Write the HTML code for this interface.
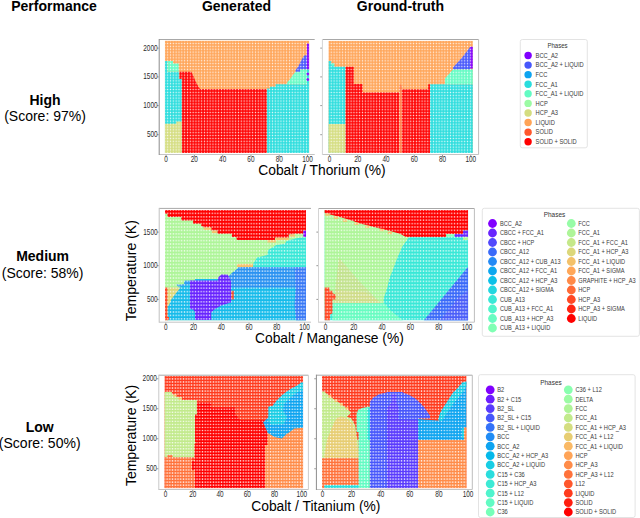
<!DOCTYPE html><html><head><meta charset="utf-8"><style>html,body{margin:0;padding:0;background:#fff;overflow:hidden}svg{display:block}</style></head><body><svg width="640" height="518" viewBox="0 0 640 518" font-family='"Liberation Sans", sans-serif'>
<rect width="640" height="518" fill="#fff"/>
<text x="54" y="10.6" font-size="14" font-weight="bold" text-anchor="middle" fill="#000" >Performance</text>
<text x="236.5" y="10.6" font-size="14" font-weight="bold" text-anchor="middle" fill="#000" >Generated</text>
<text x="400.4" y="10.6" font-size="14" font-weight="bold" text-anchor="middle" fill="#000" >Ground-truth</text>
<text x="45" y="104.5" font-size="14" font-weight="bold" text-anchor="middle" fill="#000" >High</text>
<text x="45" y="120.5" font-size="14" font-weight="normal" text-anchor="middle" fill="#000" >(Score: 97%)</text>
<text x="42.6" y="260.8" font-size="14" font-weight="bold" text-anchor="middle" fill="#000" >Medium</text>
<text x="42.6" y="277.5" font-size="14" font-weight="normal" text-anchor="middle" fill="#000" >(Score: 58%)</text>
<text x="39.7" y="431.9" font-size="14" font-weight="bold" text-anchor="middle" fill="#000" >Low</text>
<text x="39.7" y="448.3" font-size="14" font-weight="normal" text-anchor="middle" fill="#000" >(Score: 50%)</text>
<text x="258.2" y="175.3" font-size="14" font-weight="normal" text-anchor="start" fill="#000" textLength="127.5" lengthAdjust="spacingAndGlyphs">Cobalt / Thorium (%)</text>
<text x="255" y="342.5" font-size="14" font-weight="normal" text-anchor="start" fill="#000" textLength="148.8" lengthAdjust="spacingAndGlyphs">Cobalt / Manganese (%)</text>
<text x="251.2" y="510.5" font-size="14" font-weight="normal" text-anchor="start" fill="#000" textLength="129.3" lengthAdjust="spacingAndGlyphs">Cobalt / Titanium (%)</text>
<text transform="translate(136.2,270.7) rotate(-90)" font-size="14" text-anchor="middle">Temperature (K)</text>
<text transform="translate(136.0,435.5) rotate(-90)" font-size="14" text-anchor="middle">Temperature (K)</text>
<path d="M159.2,154.5 H314.7" fill="none" stroke="#c4c4c4" stroke-width="1"/>
<path d="M159.2,39.5 H314.7" fill="none" stroke="#a8a8a8" stroke-width="1"/>
<path d="M159.2,39.0 V155.0" fill="none" stroke="#8c8c8c" stroke-width="1"/>
<clipPath id="chg"><rect x="164.8" y="40.6" width="144.50" height="112.30"/></clipPath>
<pattern id="phg" patternUnits="userSpaceOnUse" x="166.217" y="42.038" width="2.833" height="2.877"><rect x="0.767" y="0.738" width="1.3" height="1.4" fill="#fff" fill-opacity="0.88"/></pattern>
<g clip-path="url(#chg)">
<rect x="164.80" y="40.60" width="144.50" height="112.30" fill="#ffa457"/>
<polygon fill="#2adddd" points="164.80,61.10 167.50,61.10 167.50,71.80 179.40,71.80 179.40,79.00 181.90,79.00 181.90,152.90 164.80,152.90"/>
<polygon fill="#63fbc3" points="167.50,61.10 173.00,61.10 173.00,63.60 178.80,63.60 178.80,71.80 167.50,71.80"/>
<polygon fill="#d4dd80" points="164.80,123.75 176.25,123.75 176.25,121.50 181.90,121.50 181.90,152.90 164.80,152.90"/>
<polygon fill="#ff0000" points="179.40,71.80 191.25,71.80 193.00,75.00 195.00,80.00 197.50,85.00 200.00,89.00 266.90,89.00 266.90,152.90 181.90,152.90 181.90,79.00 179.40,79.00"/>
<polygon fill="#2adddd" points="266.90,152.90 266.90,88.50 270.00,88.50 270.00,86.75 275.60,86.75 275.60,84.25 306.90,84.25 306.90,69.25 309.30,69.25 309.30,152.90"/>
<polygon fill="#63fbc3" points="286.90,84.25 287.50,81.75 290.00,79.25 292.50,75.50 295.60,71.75 301.00,69.25 306.90,69.25 306.90,84.25"/>
<polygon fill="#4757fb" points="295.60,71.75 295.60,69.90 298.10,66.75 299.40,64.25 301.25,60.50 302.50,58.00 304.40,55.50 306.90,54.90 306.90,69.25 300.00,69.25 300.00,71.75"/>
<rect x="306.90" y="43.60" width="2.40" height="25.65" fill="#8000ff"/>
<circle cx="307.9" cy="73.9" r="1.5" fill="#8000ff"/>
<circle cx="307.9" cy="79.6" r="1.5" fill="#8000ff"/>
<rect x="164.8" y="40.6" width="144.50" height="112.30" fill="url(#phg)"/>
</g>
<text x="166.10" y="162.20" font-size="8.8" font-weight="normal" text-anchor="middle" fill="#2a2a2a" textLength="3.57" lengthAdjust="spacingAndGlyphs">0</text>
<text x="194.38" y="162.20" font-size="8.8" font-weight="normal" text-anchor="middle" fill="#2a2a2a" textLength="7.14" lengthAdjust="spacingAndGlyphs">20</text>
<text x="222.66" y="162.20" font-size="8.8" font-weight="normal" text-anchor="middle" fill="#2a2a2a" textLength="7.14" lengthAdjust="spacingAndGlyphs">40</text>
<text x="250.94" y="162.20" font-size="8.8" font-weight="normal" text-anchor="middle" fill="#2a2a2a" textLength="7.14" lengthAdjust="spacingAndGlyphs">60</text>
<text x="279.22" y="162.20" font-size="8.8" font-weight="normal" text-anchor="middle" fill="#2a2a2a" textLength="7.14" lengthAdjust="spacingAndGlyphs">80</text>
<text x="307.50" y="162.20" font-size="8.8" font-weight="normal" text-anchor="middle" fill="#2a2a2a" textLength="10.72" lengthAdjust="spacingAndGlyphs">100</text>
<path d="M166.10,155.0 v2 M194.38,155.0 v2 M222.66,155.0 v2 M250.94,155.0 v2 M279.22,155.0 v2 M307.50,155.0 v2 M158.7,48.10 h-1.6 M158.7,76.90 h-1.6 M158.7,105.60 h-1.6 M158.7,134.70 h-1.6 " stroke="#777" stroke-width="0.8" fill="none"/>
<text x="157.6" y="50.50" font-size="8.8" font-weight="normal" text-anchor="end" fill="#2a2a2a" textLength="14.29" lengthAdjust="spacingAndGlyphs">2000</text>
<text x="157.6" y="79.30" font-size="8.8" font-weight="normal" text-anchor="end" fill="#2a2a2a" textLength="14.29" lengthAdjust="spacingAndGlyphs">1500</text>
<text x="157.6" y="108.00" font-size="8.8" font-weight="normal" text-anchor="end" fill="#2a2a2a" textLength="14.29" lengthAdjust="spacingAndGlyphs">1000</text>
<text x="157.6" y="137.10" font-size="8.8" font-weight="normal" text-anchor="end" fill="#2a2a2a" textLength="10.72" lengthAdjust="spacingAndGlyphs">500</text>
<path d="M322.4,154.5 H478.6" fill="none" stroke="#c4c4c4" stroke-width="1"/>
<path d="M322.4,39.5 H478.6" fill="none" stroke="#a8a8a8" stroke-width="1"/>
<path d="M478.6,39.5 V154.5" fill="none" stroke="#bdbdbd" stroke-width="1"/>
<path d="M322.4,39.0 V155.0" fill="none" stroke="#d4d4d4" stroke-width="1"/>
<clipPath id="cht"><rect x="328.4" y="40.7" width="144.50" height="112.20"/></clipPath>
<pattern id="pht" patternUnits="userSpaceOnUse" x="329.820" y="42.139" width="2.839" height="2.877"><rect x="0.769" y="0.738" width="1.3" height="1.4" fill="#fff" fill-opacity="0.88"/></pattern>
<g clip-path="url(#cht)">
<rect x="328.40" y="40.70" width="144.50" height="112.20" fill="#ffa457"/>
<polygon fill="#2adddd" points="328.40,61.10 331.25,61.10 331.25,63.60 334.40,63.60 334.40,66.75 345.60,66.75 345.60,152.90 328.40,152.90"/>
<circle cx="332.8" cy="64.5" r="1.2" fill="#63fbc3"/>
<rect x="328.40" y="124.00" width="17.20" height="28.90" fill="#d4dd80"/>
<polygon fill="#ff0000" points="345.60,66.75 353.75,66.75 353.75,84.00 362.50,84.00 362.50,92.40 399.40,92.40 399.40,152.90 345.60,152.90"/>
<polygon fill="#ff0000" points="401.90,89.25 428.10,89.25 428.10,84.25 430.00,84.25 430.00,152.90 401.90,152.90"/>
<polygon fill="#ff7a48" points="399.40,152.90 399.40,86.00 400.60,84.25 401.90,86.00 401.90,152.90"/>
<polygon fill="#2adddd" points="430.00,84.25 472.90,84.25 472.90,152.90 430.00,152.90"/>
<polygon fill="#63fbc3" points="445.00,84.25 445.00,78.60 447.50,75.50 450.00,73.00 453.00,69.25 472.90,69.25 472.90,84.25"/>
<polygon fill="#4757fb" points="453.00,69.25 453.00,67.50 456.00,64.25 459.00,61.00 461.90,57.75 464.40,54.50 467.00,51.25 469.40,48.00 470.00,46.75 470.00,69.25"/>
<rect x="470.00" y="46.75" width="2.90" height="21.85" fill="#8000ff"/>
<rect x="328.4" y="40.7" width="144.50" height="112.20" fill="url(#pht)"/>
</g>
<text x="329.50" y="162.20" font-size="8.8" font-weight="normal" text-anchor="middle" fill="#2a2a2a" textLength="3.57" lengthAdjust="spacingAndGlyphs">0</text>
<text x="357.75" y="162.20" font-size="8.8" font-weight="normal" text-anchor="middle" fill="#2a2a2a" textLength="7.14" lengthAdjust="spacingAndGlyphs">20</text>
<text x="386.00" y="162.20" font-size="8.8" font-weight="normal" text-anchor="middle" fill="#2a2a2a" textLength="7.14" lengthAdjust="spacingAndGlyphs">40</text>
<text x="414.25" y="162.20" font-size="8.8" font-weight="normal" text-anchor="middle" fill="#2a2a2a" textLength="7.14" lengthAdjust="spacingAndGlyphs">60</text>
<text x="442.50" y="162.20" font-size="8.8" font-weight="normal" text-anchor="middle" fill="#2a2a2a" textLength="7.14" lengthAdjust="spacingAndGlyphs">80</text>
<text x="470.75" y="162.20" font-size="8.8" font-weight="normal" text-anchor="middle" fill="#2a2a2a" textLength="10.72" lengthAdjust="spacingAndGlyphs">100</text>
<path d="M329.50,155.0 v2 M357.75,155.0 v2 M386.00,155.0 v2 M414.25,155.0 v2 M442.50,155.0 v2 M470.75,155.0 v2 M321.9,48.10 h-1.6 M321.9,76.90 h-1.6 M321.9,105.60 h-1.6 M321.9,134.70 h-1.6 " stroke="#777" stroke-width="0.8" fill="none"/>
<path d="M159.2,322.2 H311.0" fill="none" stroke="#c4c4c4" stroke-width="1"/>
<path d="M159.2,208.4 H311.0" fill="none" stroke="#a8a8a8" stroke-width="1"/>
<path d="M159.2,207.9 V322.7" fill="none" stroke="#c0c0c0" stroke-width="1"/>
<clipPath id="cmg"><rect x="165.0" y="210.0" width="141.00" height="110.40"/></clipPath>
<pattern id="pmg" patternUnits="userSpaceOnUse" x="166.390" y="211.700" width="2.78" height="3.4"><rect x="0.740" y="1.000" width="1.3" height="1.4" fill="#fff" fill-opacity="0.88"/></pattern>
<g clip-path="url(#cmg)">
<rect x="165.00" y="210.00" width="141.00" height="110.40" fill="#aef599"/>
<polygon fill="#ff0000" points="165.00,210.00 306.00,210.00 306.00,230.60 303.10,230.60 303.10,233.75 293.75,233.75 293.75,234.40 288.75,234.40 288.75,237.75 275.00,237.75 275.00,240.00 236.90,240.00 236.25,236.90 231.90,236.90 231.90,233.75 217.50,233.75 217.50,230.60 211.25,230.60 211.25,227.50 203.10,227.50 203.10,226.25 201.25,226.25 201.25,223.75 193.10,223.75 193.10,220.60 181.25,220.60 181.25,216.90 167.50,216.90 167.50,213.75 165.00,213.75"/>
<rect x="203.75" y="227.50" width="7.50" height="2.50" fill="#f3c16a"/>
<rect x="211.90" y="230.60" width="5.10" height="2.50" fill="#f3c16a"/>
<rect x="275.60" y="237.75" width="13.15" height="2.25" fill="#f3c16a"/>
<rect x="267.50" y="240.00" width="8.50" height="2.50" fill="#f3c16a"/>
<rect x="290.00" y="234.40" width="5.00" height="2.50" fill="#f3c16a"/>
<rect x="303.30" y="230.60" width="2.70" height="6.30" fill="#8000ff"/>
<polygon fill="#3ae8d7" points="253.10,267.00 253.10,263.75 255.60,260.00 256.90,257.50 267.50,255.00 268.10,250.00 272.50,247.50 276.25,245.00 285.00,243.75 286.25,241.25 290.00,240.00 297.50,238.10 303.10,237.25 306.00,237.25 306.00,267.00"/>
<rect x="236.90" y="263.90" width="16.10" height="3.10" fill="#f3c16a"/>
<rect x="250.60" y="263.90" width="2.40" height="6.20" fill="#f3c16a"/>
<polygon fill="#16bbea" points="167.50,305.75 168.75,299.50 171.25,294.50 175.00,290.00 180.60,286.25 181.25,284.40 184.40,284.40 184.40,280.75 195.00,280.75 195.00,279.00 229.00,279.00 229.00,276.00 232.00,273.00 236.00,270.00 239.00,267.00 306.00,267.00 306.00,320.40 167.50,320.40"/>
<polygon fill="#2a92f1" points="229.00,281.00 229.00,276.00 232.00,273.00 236.00,270.00 239.00,267.00 306.00,267.00 306.00,287.50 229.00,287.50"/>
<polygon fill="#3a7af6" points="294.50,267.00 306.00,267.00 306.00,320.40 296.00,320.40 294.50,305.00 295.50,290.00"/>
<polygon fill="#2a9ef1" points="176.25,284.40 184.40,284.40 184.40,280.75 192.00,280.75 190.00,284.00 184.00,286.00 178.00,286.50"/>
<polygon fill="#6824fe" points="190.00,280.60 218.10,280.60 218.10,277.50 221.25,274.40 227.50,274.40 229.50,277.50 231.00,281.25 231.00,302.50 222.50,305.00 217.50,307.50 213.75,310.00 211.25,312.50 211.25,320.00 195.00,320.00 195.00,312.50 193.75,310.00 190.00,308.75"/>
<rect x="231.25" y="290.75" width="2.50" height="8.75" fill="#ff4824"/>
<polygon fill="#dcd77a" points="167.50,287.60 180.60,287.60 175.00,294.50 171.25,299.50 168.75,305.75 167.50,305.75"/>
<polygon fill="#ff4824" points="165.00,287.60 167.50,287.60 167.50,317.00 169.00,317.00 169.00,319.50 167.50,320.40 165.00,320.40"/>
<rect x="165.0" y="210.0" width="141.00" height="110.40" fill="url(#pmg)"/>
</g>
<text x="165.80" y="329.60" font-size="8.8" font-weight="normal" text-anchor="middle" fill="#2a2a2a" textLength="3.57" lengthAdjust="spacingAndGlyphs">0</text>
<text x="193.54" y="329.60" font-size="8.8" font-weight="normal" text-anchor="middle" fill="#2a2a2a" textLength="7.14" lengthAdjust="spacingAndGlyphs">20</text>
<text x="221.28" y="329.60" font-size="8.8" font-weight="normal" text-anchor="middle" fill="#2a2a2a" textLength="7.14" lengthAdjust="spacingAndGlyphs">40</text>
<text x="249.02" y="329.60" font-size="8.8" font-weight="normal" text-anchor="middle" fill="#2a2a2a" textLength="7.14" lengthAdjust="spacingAndGlyphs">60</text>
<text x="276.76" y="329.60" font-size="8.8" font-weight="normal" text-anchor="middle" fill="#2a2a2a" textLength="7.14" lengthAdjust="spacingAndGlyphs">80</text>
<text x="304.50" y="329.60" font-size="8.8" font-weight="normal" text-anchor="middle" fill="#2a2a2a" textLength="10.72" lengthAdjust="spacingAndGlyphs">100</text>
<path d="M165.80,322.7 v2 M193.54,322.7 v2 M221.28,322.7 v2 M249.02,322.7 v2 M276.76,322.7 v2 M304.50,322.7 v2 M158.7,232.10 h-1.6 M158.7,265.70 h-1.6 M158.7,299.40 h-1.6 " stroke="#777" stroke-width="0.8" fill="none"/>
<text x="157.6" y="234.50" font-size="8.8" font-weight="normal" text-anchor="end" fill="#2a2a2a" textLength="14.29" lengthAdjust="spacingAndGlyphs">1500</text>
<text x="157.6" y="268.10" font-size="8.8" font-weight="normal" text-anchor="end" fill="#2a2a2a" textLength="14.29" lengthAdjust="spacingAndGlyphs">1000</text>
<text x="157.6" y="301.80" font-size="8.8" font-weight="normal" text-anchor="end" fill="#2a2a2a" textLength="10.72" lengthAdjust="spacingAndGlyphs">500</text>
<path d="M318.5,322.2 H474.4" fill="none" stroke="#c4c4c4" stroke-width="1"/>
<path d="M318.5,208.5 H474.4" fill="none" stroke="#a8a8a8" stroke-width="1"/>
<path d="M474.4,208.5 V322.2" fill="none" stroke="#bdbdbd" stroke-width="1"/>
<path d="M318.5,208.0 V322.7" fill="none" stroke="#d4d4d4" stroke-width="1"/>
<clipPath id="cmt"><rect x="324.4" y="210.0" width="143.80" height="110.40"/></clipPath>
<pattern id="pmt" patternUnits="userSpaceOnUse" x="325.815" y="211.700" width="2.83" height="3.4"><rect x="0.765" y="1.000" width="1.3" height="1.4" fill="#fff" fill-opacity="0.88"/></pattern>
<g clip-path="url(#cmt)">
<rect x="324.40" y="210.00" width="143.80" height="110.40" fill="#3ae8d7"/>
<polygon fill="#aef599" points="324.40,210.00 409.00,210.00 409.00,237.00 402.50,246.25 397.50,257.50 392.50,270.75 389.40,278.25 387.50,287.00 383.75,298.25 383.75,303.50 324.40,303.50"/>
<polygon fill="#c2e28e" points="338.75,257.50 360.00,282.00 381.00,303.25 333.75,303.25"/>
<polygon fill="#cfdc88" points="335.50,290.00 365.00,292.00 381.00,303.25 333.75,303.25"/>
<polygon fill="#ff0000" points="324.40,210.00 468.20,210.00 468.20,230.60 463.00,230.60 463.00,234.00 446.25,234.00 446.25,236.90 406.00,236.90 400.00,233.75 390.00,231.00 380.00,228.50 370.00,226.00 360.00,223.50 350.00,220.00 340.00,217.00 330.00,214.50 324.40,213.10"/>
<rect x="325.30" y="213.30" width="4.40" height="2.40" fill="#f3c16a"/>
<rect x="333.80" y="216.40" width="4.40" height="2.40" fill="#f3c16a"/>
<rect x="342.80" y="219.40" width="4.40" height="2.40" fill="#f3c16a"/>
<rect x="354.30" y="222.60" width="4.40" height="2.40" fill="#f3c16a"/>
<rect x="365.30" y="225.70" width="4.40" height="2.40" fill="#f3c16a"/>
<rect x="379.80" y="228.80" width="4.40" height="2.40" fill="#f3c16a"/>
<rect x="387.80" y="231.80" width="4.40" height="2.40" fill="#f3c16a"/>
<polygon fill="#6824fe" points="454.40,234.00 463.00,234.00 463.00,230.60 468.20,230.60 468.20,236.90 454.40,236.90"/>
<rect x="446.25" y="234.00" width="8.15" height="2.90" fill="#80ffb4"/>
<rect x="463.00" y="236.90" width="5.20" height="3.10" fill="#aef599"/>
<polygon fill="#3a6af9" points="423.75,320.40 467.50,267.60 468.20,267.60 468.20,320.40"/>
<polygon fill="#4a5ef9" points="440.00,320.40 458.00,298.00 468.20,290.00 468.20,320.40"/>
<polygon fill="#68fcc1" points="332.50,303.25 384.40,303.25 390.00,310.00 403.00,320.40 332.50,320.40"/>
<polygon fill="#ff4824" points="324.40,287.60 329.40,287.60 329.40,290.75 332.50,290.75 332.50,293.25 335.60,294.50 335.60,299.50 332.50,299.50 332.50,313.25 330.00,314.50 330.00,320.40 324.40,320.40"/>
<rect x="324.4" y="210.0" width="143.80" height="110.40" fill="url(#pmt)"/>
</g>
<text x="325.50" y="329.60" font-size="8.8" font-weight="normal" text-anchor="middle" fill="#2a2a2a" textLength="3.57" lengthAdjust="spacingAndGlyphs">0</text>
<text x="353.80" y="329.60" font-size="8.8" font-weight="normal" text-anchor="middle" fill="#2a2a2a" textLength="7.14" lengthAdjust="spacingAndGlyphs">20</text>
<text x="382.10" y="329.60" font-size="8.8" font-weight="normal" text-anchor="middle" fill="#2a2a2a" textLength="7.14" lengthAdjust="spacingAndGlyphs">40</text>
<text x="410.40" y="329.60" font-size="8.8" font-weight="normal" text-anchor="middle" fill="#2a2a2a" textLength="7.14" lengthAdjust="spacingAndGlyphs">60</text>
<text x="438.70" y="329.60" font-size="8.8" font-weight="normal" text-anchor="middle" fill="#2a2a2a" textLength="7.14" lengthAdjust="spacingAndGlyphs">80</text>
<text x="467.00" y="329.60" font-size="8.8" font-weight="normal" text-anchor="middle" fill="#2a2a2a" textLength="10.72" lengthAdjust="spacingAndGlyphs">100</text>
<path d="M325.50,322.7 v2 M353.80,322.7 v2 M382.10,322.7 v2 M410.40,322.7 v2 M438.70,322.7 v2 M467.00,322.7 v2 M318.0,232.10 h-1.6 M318.0,265.70 h-1.6 M318.0,299.40 h-1.6 " stroke="#777" stroke-width="0.8" fill="none"/>
<path d="M158.8,489.5 H308.4" fill="none" stroke="#c4c4c4" stroke-width="1"/>
<path d="M158.8,375.2 H308.4" fill="none" stroke="#a8a8a8" stroke-width="1"/>
<path d="M308.4,375.2 V489.5" fill="none" stroke="#cccccc" stroke-width="1"/>
<path d="M158.8,374.7 V490.0" fill="none" stroke="#c8c8c8" stroke-width="1"/>
<clipPath id="clg"><rect x="164.4" y="375.9" width="138.80" height="112.40"/></clipPath>
<pattern id="plg" patternUnits="userSpaceOnUse" x="165.760" y="377.417" width="2.72" height="3.035"><rect x="0.710" y="0.818" width="1.3" height="1.4" fill="#fff" fill-opacity="0.88"/></pattern>
<g clip-path="url(#clg)">
<rect x="164.40" y="375.90" width="138.80" height="112.40" fill="#ff3b1e"/>
<polygon fill="#ff0000" points="195.00,402.50 211.25,402.50 211.25,407.50 235.00,407.50 235.00,413.75 240.00,420.00 265.00,420.00 267.50,430.00 267.50,445.00 265.00,445.00 265.00,488.30 195.00,488.30"/>
<polygon fill="#c2ea8c" points="164.40,392.00 171.90,392.00 171.90,394.50 176.25,394.50 176.25,397.00 181.90,397.00 181.90,400.10 196.90,400.10 196.90,414.50 195.00,414.50 195.00,442.00 196.25,442.50 194.40,444.00 194.40,457.50 164.40,457.50"/>
<rect x="173.50" y="394.30" width="3.00" height="2.40" fill="#fab965"/>
<rect x="178.50" y="397.30" width="3.00" height="2.40" fill="#fab965"/>
<polygon fill="#ff723b" points="164.40,457.00 167.50,457.00 167.50,455.00 172.50,455.00 172.50,457.50 192.00,457.50 192.00,460.00 195.00,460.00 195.00,488.30 164.40,488.30"/>
<rect x="192.00" y="461.00" width="3.00" height="9.00" fill="#ff0000"/>
<polygon fill="#ff8c49" points="265.00,445.00 267.50,445.00 267.50,423.00 303.20,423.00 303.20,488.30 265.00,488.30"/>
<polygon fill="#0ea4f0" points="263.10,422.30 268.50,416.90 268.50,406.80 272.60,406.10 276.60,400.70 282.00,395.30 287.40,391.20 291.50,388.50 296.90,385.80 301.60,382.40 303.20,382.40 303.20,427.70 294.20,428.40 290.10,431.75 286.00,434.50 282.00,438.50 275.30,437.20 267.80,433.10"/>
<polygon fill="#18cde4" points="268.50,416.90 268.50,406.80 272.60,406.10 276.60,400.70 282.00,395.30 287.40,391.20 291.50,388.50 296.90,385.80 301.60,382.40 303.20,382.40 303.20,390.00 296.00,393.00 290.00,398.00 284.00,404.00 283.00,411.00 287.00,417.00 284.00,424.00 272.00,425.00 268.00,421.00"/>
<rect x="164.4" y="375.9" width="138.80" height="112.40" fill="url(#plg)"/>
</g>
<text x="165.50" y="497.20" font-size="8.8" font-weight="normal" text-anchor="middle" fill="#2a2a2a" textLength="3.57" lengthAdjust="spacingAndGlyphs">0</text>
<text x="192.76" y="497.20" font-size="8.8" font-weight="normal" text-anchor="middle" fill="#2a2a2a" textLength="7.14" lengthAdjust="spacingAndGlyphs">20</text>
<text x="220.02" y="497.20" font-size="8.8" font-weight="normal" text-anchor="middle" fill="#2a2a2a" textLength="7.14" lengthAdjust="spacingAndGlyphs">40</text>
<text x="247.28" y="497.20" font-size="8.8" font-weight="normal" text-anchor="middle" fill="#2a2a2a" textLength="7.14" lengthAdjust="spacingAndGlyphs">60</text>
<text x="274.54" y="497.20" font-size="8.8" font-weight="normal" text-anchor="middle" fill="#2a2a2a" textLength="7.14" lengthAdjust="spacingAndGlyphs">80</text>
<text x="301.80" y="497.20" font-size="8.8" font-weight="normal" text-anchor="middle" fill="#2a2a2a" textLength="10.72" lengthAdjust="spacingAndGlyphs">100</text>
<path d="M165.50,490.0 v2 M192.76,490.0 v2 M220.02,490.0 v2 M247.28,490.0 v2 M274.54,490.0 v2 M301.80,490.0 v2 M158.3,378.75 h-1.6 M158.3,408.75 h-1.6 M158.3,438.75 h-1.6 M158.3,468.75 h-1.6 " stroke="#777" stroke-width="0.8" fill="none"/>
<text x="156.9" y="381.15" font-size="8.8" font-weight="normal" text-anchor="end" fill="#2a2a2a" textLength="14.29" lengthAdjust="spacingAndGlyphs">2000</text>
<text x="156.9" y="411.15" font-size="8.8" font-weight="normal" text-anchor="end" fill="#2a2a2a" textLength="14.29" lengthAdjust="spacingAndGlyphs">1500</text>
<text x="156.9" y="441.15" font-size="8.8" font-weight="normal" text-anchor="end" fill="#2a2a2a" textLength="14.29" lengthAdjust="spacingAndGlyphs">1000</text>
<text x="156.9" y="471.15" font-size="8.8" font-weight="normal" text-anchor="end" fill="#2a2a2a" textLength="10.72" lengthAdjust="spacingAndGlyphs">500</text>
<path d="M316.4,489.5 H472.3" fill="none" stroke="#c4c4c4" stroke-width="1"/>
<path d="M316.4,375.2 H472.3" fill="none" stroke="#a8a8a8" stroke-width="1"/>
<path d="M472.3,375.2 V489.5" fill="none" stroke="#bdbdbd" stroke-width="1"/>
<path d="M316.4,374.7 V490.0" fill="none" stroke="#8c8c8c" stroke-width="1"/>
<clipPath id="clt"><rect x="322.0" y="375.9" width="144.60" height="112.40"/></clipPath>
<pattern id="plt" patternUnits="userSpaceOnUse" x="323.421" y="377.417" width="2.843" height="3.035"><rect x="0.771" y="0.818" width="1.3" height="1.4" fill="#fff" fill-opacity="0.88"/></pattern>
<g clip-path="url(#clt)">
<rect x="322.00" y="375.90" width="144.60" height="112.40" fill="#ff3b1e"/>
<polygon fill="#c2ea8c" points="322.00,391.40 324.25,391.40 327.30,394.30 333.50,398.90 338.10,402.00 344.30,406.60 348.90,410.50 351.20,412.80 356.50,412.80 356.50,436.00 358.60,440.00 358.60,460.00 322.00,460.00"/>
<rect x="328.60" y="395.10" width="2.80" height="2.80" fill="#fab965"/>
<rect x="334.60" y="399.10" width="2.80" height="2.80" fill="#fab965"/>
<rect x="340.10" y="402.90" width="2.80" height="2.80" fill="#fab965"/>
<rect x="345.60" y="407.20" width="2.80" height="2.80" fill="#fab965"/>
<polygon fill="#ff3b1e" points="351.20,412.80 356.50,412.80 356.50,436.00 358.60,440.00 357.40,440.00 355.90,431.40 355.10,425.20 351.20,418.20 347.00,416.70"/>
<polygon fill="#e7cd72" points="337.00,418.00 341.00,416.50 345.50,417.50 350.00,421.00 352.80,423.60 355.10,431.40 356.60,439.10 357.40,446.80 358.60,450.00 358.60,458.50 324.20,458.50 324.20,457.60 325.70,446.80 327.30,439.10 330.40,431.40 333.50,423.60"/>
<rect x="322.00" y="458.10" width="36.60" height="30.20" fill="#ff723b"/>
<rect x="324.25" y="485.00" width="35.25" height="3.30" fill="#2adddd"/>
<polygon fill="#63fbc3" points="356.75,414.00 358.00,410.00 362.00,408.00 369.90,406.50 369.90,488.30 358.60,488.30 358.60,432.00 356.75,432.00"/>
<rect x="367.50" y="408.00" width="2.40" height="32.00" fill="#2adddd"/>
<polygon fill="#4757fb" points="369.90,488.30 369.90,405.90 369.60,402.40 373.10,397.70 378.90,394.30 388.20,392.00 402.10,392.00 410.20,395.40 416.00,398.90 420.60,403.50 425.00,408.20 427.50,412.00 430.00,415.75 430.00,418.25 418.30,418.60 418.30,488.30"/>
<polygon fill="#5a3bfd" points="391.70,394.00 396.30,394.00 396.50,402.00 398.60,408.20 398.60,419.80 418.30,419.80 418.30,488.30 387.00,488.30 387.00,408.20 391.70,402.00"/>
<polygon fill="#0ea4f0" points="418.10,419.00 440.00,420.75 440.00,413.25 443.75,407.00 448.75,399.50 452.50,393.25 457.50,388.25 462.50,382.60 466.60,381.40 466.60,427.50 464.00,427.50 464.00,440.00 418.10,440.00"/>
<polygon fill="#18cde4" points="438.00,420.60 440.00,413.25 443.75,407.00 448.75,399.50 452.50,393.25 457.50,388.25 462.50,382.60 466.60,381.40 466.60,386.00 463.00,392.00 458.00,398.00 453.00,404.00 449.00,410.00 445.00,416.00 442.00,421.00"/>
<rect x="462.00" y="428.00" width="2.50" height="10.00" fill="#18cde4"/>
<polygon fill="#ff8c49" points="418.10,440.00 464.00,440.00 464.00,427.50 466.60,427.50 466.60,488.30 418.10,488.30"/>
<rect x="322.0" y="375.9" width="144.60" height="112.40" fill="url(#plt)"/>
</g>
<text x="322.50" y="497.20" font-size="8.8" font-weight="normal" text-anchor="middle" fill="#2a2a2a" textLength="3.57" lengthAdjust="spacingAndGlyphs">0</text>
<text x="351.60" y="497.20" font-size="8.8" font-weight="normal" text-anchor="middle" fill="#2a2a2a" textLength="7.14" lengthAdjust="spacingAndGlyphs">20</text>
<text x="380.70" y="497.20" font-size="8.8" font-weight="normal" text-anchor="middle" fill="#2a2a2a" textLength="7.14" lengthAdjust="spacingAndGlyphs">40</text>
<text x="409.80" y="497.20" font-size="8.8" font-weight="normal" text-anchor="middle" fill="#2a2a2a" textLength="7.14" lengthAdjust="spacingAndGlyphs">60</text>
<text x="438.90" y="497.20" font-size="8.8" font-weight="normal" text-anchor="middle" fill="#2a2a2a" textLength="7.14" lengthAdjust="spacingAndGlyphs">80</text>
<text x="468.00" y="497.20" font-size="8.8" font-weight="normal" text-anchor="middle" fill="#2a2a2a" textLength="10.72" lengthAdjust="spacingAndGlyphs">100</text>
<path d="M322.50,490.0 v2 M351.60,490.0 v2 M380.70,490.0 v2 M409.80,490.0 v2 M438.90,490.0 v2 M468.00,490.0 v2 M315.9,378.75 h-1.6 M315.9,408.75 h-1.6 M315.9,438.75 h-1.6 M315.9,468.75 h-1.6 " stroke="#777" stroke-width="0.8" fill="none"/>
<rect x="520.3" y="39.5" width="67.0" height="108.30000000000001" rx="2" fill="#fff" stroke="#dcdcdc" stroke-width="0.8"/>
<text x="557.5" y="47.9" font-size="6.6000000000000005" font-weight="normal" text-anchor="middle" fill="#333" textLength="20.25" lengthAdjust="spacingAndGlyphs">Phases</text>
<circle cx="528.1" cy="55.50" r="3.7" fill="#8000ff"/>
<text x="535.6" y="57.80" font-size="6.4" font-weight="normal" text-anchor="start" fill="#3a3a3a" textLength="22.41" lengthAdjust="spacingAndGlyphs">BCC_A2</text>
<circle cx="528.1" cy="65.08" r="3.7" fill="#4757fb"/>
<text x="535.6" y="67.38" font-size="6.4" font-weight="normal" text-anchor="start" fill="#3a3a3a" textLength="48.18" lengthAdjust="spacingAndGlyphs">BCC_A2 + LIQUID</text>
<circle cx="528.1" cy="74.66" r="3.7" fill="#0ea4f0"/>
<text x="535.6" y="76.96" font-size="6.4" font-weight="normal" text-anchor="start" fill="#3a3a3a" textLength="11.84" lengthAdjust="spacingAndGlyphs">FCC</text>
<circle cx="528.1" cy="84.24" r="3.7" fill="#2adddd"/>
<text x="535.6" y="86.54" font-size="6.4" font-weight="normal" text-anchor="start" fill="#3a3a3a" textLength="22.09" lengthAdjust="spacingAndGlyphs">FCC_A1</text>
<circle cx="528.1" cy="93.82" r="3.7" fill="#63fbc3"/>
<text x="535.6" y="96.12" font-size="6.4" font-weight="normal" text-anchor="start" fill="#3a3a3a" textLength="47.85" lengthAdjust="spacingAndGlyphs">FCC_A1 + LIQUID</text>
<circle cx="528.1" cy="103.40" r="3.7" fill="#9cfba4"/>
<text x="535.6" y="105.70" font-size="6.4" font-weight="normal" text-anchor="start" fill="#3a3a3a" textLength="12.16" lengthAdjust="spacingAndGlyphs">HCP</text>
<circle cx="528.1" cy="112.98" r="3.7" fill="#d4dd80"/>
<text x="535.6" y="115.28" font-size="6.4" font-weight="normal" text-anchor="start" fill="#3a3a3a" textLength="22.41" lengthAdjust="spacingAndGlyphs">HCP_A3</text>
<circle cx="528.1" cy="122.56" r="3.7" fill="#ffa457"/>
<text x="535.6" y="124.86" font-size="6.4" font-weight="normal" text-anchor="start" fill="#3a3a3a" textLength="19.20" lengthAdjust="spacingAndGlyphs">LIQUID</text>
<circle cx="528.1" cy="132.14" r="3.7" fill="#ff572c"/>
<text x="535.6" y="134.44" font-size="6.4" font-weight="normal" text-anchor="start" fill="#3a3a3a" textLength="17.29" lengthAdjust="spacingAndGlyphs">SOLID</text>
<circle cx="528.1" cy="141.72" r="3.7" fill="#ff0000"/>
<text x="535.6" y="144.02" font-size="6.4" font-weight="normal" text-anchor="start" fill="#3a3a3a" textLength="41.14" lengthAdjust="spacingAndGlyphs">SOLID + SOLID</text>
<rect x="482.3" y="208.3" width="157.09999999999997" height="128.0" rx="2" fill="#fff" stroke="#dcdcdc" stroke-width="0.8"/>
<text x="554.5" y="217.0" font-size="7.0" font-weight="normal" text-anchor="middle" fill="#333" textLength="21.48" lengthAdjust="spacingAndGlyphs">Phases</text>
<circle cx="492.5" cy="223.50" r="4.4" fill="#8000ff"/>
<text x="499.9" y="225.80" font-size="6.8" font-weight="normal" text-anchor="start" fill="#3a3a3a" textLength="21.96" lengthAdjust="spacingAndGlyphs">BCC_A2</text>
<circle cx="492.5" cy="233.00" r="4.4" fill="#6824fe"/>
<text x="499.9" y="235.30" font-size="6.8" font-weight="normal" text-anchor="start" fill="#3a3a3a" textLength="44.07" lengthAdjust="spacingAndGlyphs">CBCC + FCC_A1</text>
<circle cx="492.5" cy="242.50" r="4.4" fill="#5148fc"/>
<text x="499.9" y="244.80" font-size="6.8" font-weight="normal" text-anchor="start" fill="#3a3a3a" textLength="34.34" lengthAdjust="spacingAndGlyphs">CBCC + HCP</text>
<circle cx="492.5" cy="252.00" r="4.4" fill="#3a6af9"/>
<text x="499.9" y="254.30" font-size="6.8" font-weight="normal" text-anchor="start" fill="#3a3a3a" textLength="29.17" lengthAdjust="spacingAndGlyphs">CBCC_A12</text>
<circle cx="492.5" cy="261.50" r="4.4" fill="#238af5"/>
<text x="499.9" y="263.80" font-size="6.8" font-weight="normal" text-anchor="start" fill="#3a3a3a" textLength="60.70" lengthAdjust="spacingAndGlyphs">CBCC_A12 + CUB_A13</text>
<circle cx="492.5" cy="271.00" r="4.4" fill="#0ca7ef"/>
<text x="499.9" y="273.30" font-size="6.8" font-weight="normal" text-anchor="start" fill="#3a3a3a" textLength="57.25" lengthAdjust="spacingAndGlyphs">CBCC_A12 + FCC_A1</text>
<circle cx="492.5" cy="280.50" r="4.4" fill="#0cc1e8"/>
<text x="499.9" y="282.80" font-size="6.8" font-weight="normal" text-anchor="start" fill="#3a3a3a" textLength="57.56" lengthAdjust="spacingAndGlyphs">CBCC_A12 + HCP_A3</text>
<circle cx="492.5" cy="290.00" r="4.4" fill="#23d7e0"/>
<text x="499.9" y="292.30" font-size="6.8" font-weight="normal" text-anchor="start" fill="#3a3a3a" textLength="53.79" lengthAdjust="spacingAndGlyphs">CBCC_A12 + SIGMA</text>
<circle cx="492.5" cy="299.50" r="4.4" fill="#3ae8d7"/>
<text x="499.9" y="301.80" font-size="6.8" font-weight="normal" text-anchor="start" fill="#3a3a3a" textLength="25.10" lengthAdjust="spacingAndGlyphs">CUB_A13</text>
<circle cx="492.5" cy="309.00" r="4.4" fill="#51f5cc"/>
<text x="499.9" y="311.30" font-size="6.8" font-weight="normal" text-anchor="start" fill="#3a3a3a" textLength="53.17" lengthAdjust="spacingAndGlyphs">CUB_A13 + FCC_A1</text>
<circle cx="492.5" cy="318.50" r="4.4" fill="#68fcc1"/>
<text x="499.9" y="320.80" font-size="6.8" font-weight="normal" text-anchor="start" fill="#3a3a3a" textLength="53.49" lengthAdjust="spacingAndGlyphs">CUB_A13 + HCP_A3</text>
<circle cx="492.5" cy="328.00" r="4.4" fill="#80ffb4"/>
<text x="499.9" y="330.30" font-size="6.8" font-weight="normal" text-anchor="start" fill="#3a3a3a" textLength="50.35" lengthAdjust="spacingAndGlyphs">CUB_A13 + LIQUID</text>
<circle cx="571.3" cy="223.50" r="4.4" fill="#97fca7"/>
<text x="578.3" y="225.80" font-size="6.8" font-weight="normal" text-anchor="start" fill="#3a3a3a" textLength="11.60" lengthAdjust="spacingAndGlyphs">FCC</text>
<circle cx="571.3" cy="233.00" r="4.4" fill="#aef599"/>
<text x="578.3" y="235.30" font-size="6.8" font-weight="normal" text-anchor="start" fill="#3a3a3a" textLength="21.64" lengthAdjust="spacingAndGlyphs">FCC_A1</text>
<circle cx="571.3" cy="242.50" r="4.4" fill="#c5e88a"/>
<text x="578.3" y="244.80" font-size="6.8" font-weight="normal" text-anchor="start" fill="#3a3a3a" textLength="49.71" lengthAdjust="spacingAndGlyphs">FCC_A1 + FCC_A1</text>
<circle cx="571.3" cy="252.00" r="4.4" fill="#dcd77a"/>
<text x="578.3" y="254.30" font-size="6.8" font-weight="normal" text-anchor="start" fill="#3a3a3a" textLength="50.03" lengthAdjust="spacingAndGlyphs">FCC_A1 + HCP_A3</text>
<circle cx="571.3" cy="261.50" r="4.4" fill="#f3c16a"/>
<text x="578.3" y="263.80" font-size="6.8" font-weight="normal" text-anchor="start" fill="#3a3a3a" textLength="46.89" lengthAdjust="spacingAndGlyphs">FCC_A1 + LIQUID</text>
<circle cx="571.3" cy="271.00" r="4.4" fill="#ffa759"/>
<text x="578.3" y="273.30" font-size="6.8" font-weight="normal" text-anchor="start" fill="#3a3a3a" textLength="46.26" lengthAdjust="spacingAndGlyphs">FCC_A1 + SIGMA</text>
<circle cx="571.3" cy="280.50" r="4.4" fill="#ff8a48"/>
<text x="578.3" y="282.80" font-size="6.8" font-weight="normal" text-anchor="start" fill="#3a3a3a" textLength="57.24" lengthAdjust="spacingAndGlyphs">GRAPHITE + HCP_A3</text>
<circle cx="571.3" cy="290.00" r="4.4" fill="#ff6a36"/>
<text x="578.3" y="292.30" font-size="6.8" font-weight="normal" text-anchor="start" fill="#3a3a3a" textLength="11.92" lengthAdjust="spacingAndGlyphs">HCP</text>
<circle cx="571.3" cy="299.50" r="4.4" fill="#ff4824"/>
<text x="578.3" y="301.80" font-size="6.8" font-weight="normal" text-anchor="start" fill="#3a3a3a" textLength="21.96" lengthAdjust="spacingAndGlyphs">HCP_A3</text>
<circle cx="571.3" cy="309.00" r="4.4" fill="#ff2412"/>
<text x="578.3" y="311.30" font-size="6.8" font-weight="normal" text-anchor="start" fill="#3a3a3a" textLength="46.58" lengthAdjust="spacingAndGlyphs">HCP_A3 + SIGMA</text>
<circle cx="571.3" cy="318.50" r="4.4" fill="#ff0000"/>
<text x="578.3" y="320.80" font-size="6.8" font-weight="normal" text-anchor="start" fill="#3a3a3a" textLength="18.82" lengthAdjust="spacingAndGlyphs">LIQUID</text>
<rect x="478.5" y="374.7" width="156.60000000000002" height="142.8" rx="2" fill="#fff" stroke="#dcdcdc" stroke-width="0.8"/>
<text x="551.0" y="384.6" font-size="7.0" font-weight="normal" text-anchor="middle" fill="#333" textLength="21.48" lengthAdjust="spacingAndGlyphs">Phases</text>
<circle cx="490.2" cy="389.80" r="4.4" fill="#8000ff"/>
<text x="497.3" y="392.10" font-size="6.8" font-weight="normal" text-anchor="start" fill="#3a3a3a" textLength="6.99" lengthAdjust="spacingAndGlyphs">B2</text>
<circle cx="490.2" cy="399.20" r="4.4" fill="#6d1eff"/>
<text x="497.3" y="401.50" font-size="6.8" font-weight="normal" text-anchor="start" fill="#3a3a3a" textLength="23.97" lengthAdjust="spacingAndGlyphs">B2 + C15</text>
<circle cx="490.2" cy="408.60" r="4.4" fill="#5a3bfd"/>
<text x="497.3" y="410.90" font-size="6.8" font-weight="normal" text-anchor="start" fill="#3a3a3a" textLength="17.15" lengthAdjust="spacingAndGlyphs">B2_SL</text>
<circle cx="490.2" cy="418.00" r="4.4" fill="#4757fb"/>
<text x="497.3" y="420.30" font-size="6.8" font-weight="normal" text-anchor="start" fill="#3a3a3a" textLength="33.93" lengthAdjust="spacingAndGlyphs">B2_SL + C15</text>
<circle cx="490.2" cy="427.40" r="4.4" fill="#3472f8"/>
<text x="497.3" y="429.70" font-size="6.8" font-weight="normal" text-anchor="start" fill="#3a3a3a" textLength="42.49" lengthAdjust="spacingAndGlyphs">B2_SL + LIQUID</text>
<circle cx="490.2" cy="436.80" r="4.4" fill="#218cf4"/>
<text x="497.3" y="439.10" font-size="6.8" font-weight="normal" text-anchor="start" fill="#3a3a3a" textLength="12.06" lengthAdjust="spacingAndGlyphs">BCC</text>
<circle cx="490.2" cy="446.20" r="4.4" fill="#0ea4f0"/>
<text x="497.3" y="448.50" font-size="6.8" font-weight="normal" text-anchor="start" fill="#3a3a3a" textLength="22.22" lengthAdjust="spacingAndGlyphs">BCC_A2</text>
<circle cx="490.2" cy="455.60" r="4.4" fill="#05b9ea"/>
<text x="497.3" y="457.90" font-size="6.8" font-weight="normal" text-anchor="start" fill="#3a3a3a" textLength="50.96" lengthAdjust="spacingAndGlyphs">BCC_A2 + HCP_A3</text>
<circle cx="490.2" cy="465.00" r="4.4" fill="#18cde4"/>
<text x="497.3" y="467.30" font-size="6.8" font-weight="normal" text-anchor="start" fill="#3a3a3a" textLength="47.78" lengthAdjust="spacingAndGlyphs">BCC_A2 + LIQUID</text>
<circle cx="490.2" cy="474.40" r="4.4" fill="#2adddd"/>
<text x="497.3" y="476.70" font-size="6.8" font-weight="normal" text-anchor="start" fill="#3a3a3a" textLength="27.47" lengthAdjust="spacingAndGlyphs">C15 + C36</text>
<circle cx="490.2" cy="483.80" r="4.4" fill="#3dead5"/>
<text x="497.3" y="486.10" font-size="6.8" font-weight="normal" text-anchor="start" fill="#3a3a3a" textLength="39.21" lengthAdjust="spacingAndGlyphs">C15 + HCP_A3</text>
<circle cx="490.2" cy="493.20" r="4.4" fill="#50f4cd"/>
<text x="497.3" y="495.50" font-size="6.8" font-weight="normal" text-anchor="start" fill="#3a3a3a" textLength="26.52" lengthAdjust="spacingAndGlyphs">C15 + L12</text>
<circle cx="490.2" cy="502.60" r="4.4" fill="#63fbc3"/>
<text x="497.3" y="504.90" font-size="6.8" font-weight="normal" text-anchor="start" fill="#3a3a3a" textLength="36.03" lengthAdjust="spacingAndGlyphs">C15 + LIQUID</text>
<circle cx="490.2" cy="512.00" r="4.4" fill="#76ffb9"/>
<text x="497.3" y="514.30" font-size="6.8" font-weight="normal" text-anchor="start" fill="#3a3a3a" textLength="10.48" lengthAdjust="spacingAndGlyphs">C36</text>
<circle cx="568.3" cy="389.80" r="4.4" fill="#89ffaf"/>
<text x="575.4" y="392.10" font-size="6.8" font-weight="normal" text-anchor="start" fill="#3a3a3a" textLength="26.52" lengthAdjust="spacingAndGlyphs">C36 + L12</text>
<circle cx="568.3" cy="399.20" r="4.4" fill="#9cfba4"/>
<text x="575.4" y="401.50" font-size="6.8" font-weight="normal" text-anchor="start" fill="#3a3a3a" textLength="17.56" lengthAdjust="spacingAndGlyphs">DELTA</text>
<circle cx="568.3" cy="408.60" r="4.4" fill="#aff498"/>
<text x="575.4" y="410.90" font-size="6.8" font-weight="normal" text-anchor="start" fill="#3a3a3a" textLength="11.74" lengthAdjust="spacingAndGlyphs">FCC</text>
<circle cx="568.3" cy="418.00" r="4.4" fill="#c2ea8c"/>
<text x="575.4" y="420.30" font-size="6.8" font-weight="normal" text-anchor="start" fill="#3a3a3a" textLength="21.90" lengthAdjust="spacingAndGlyphs">FCC_A1</text>
<circle cx="568.3" cy="427.40" r="4.4" fill="#d4dd80"/>
<text x="575.4" y="429.70" font-size="6.8" font-weight="normal" text-anchor="start" fill="#3a3a3a" textLength="50.64" lengthAdjust="spacingAndGlyphs">FCC_A1 + HCP_A3</text>
<circle cx="568.3" cy="436.80" r="4.4" fill="#e7cd72"/>
<text x="575.4" y="439.10" font-size="6.8" font-weight="normal" text-anchor="start" fill="#3a3a3a" textLength="37.94" lengthAdjust="spacingAndGlyphs">FCC_A1 + L12</text>
<circle cx="568.3" cy="446.20" r="4.4" fill="#fab965"/>
<text x="575.4" y="448.50" font-size="6.8" font-weight="normal" text-anchor="start" fill="#3a3a3a" textLength="47.46" lengthAdjust="spacingAndGlyphs">FCC_A1 + LIQUID</text>
<circle cx="568.3" cy="455.60" r="4.4" fill="#ffa457"/>
<text x="575.4" y="457.90" font-size="6.8" font-weight="normal" text-anchor="start" fill="#3a3a3a" textLength="12.06" lengthAdjust="spacingAndGlyphs">HCP</text>
<circle cx="568.3" cy="465.00" r="4.4" fill="#ff8c49"/>
<text x="575.4" y="467.30" font-size="6.8" font-weight="normal" text-anchor="start" fill="#3a3a3a" textLength="22.22" lengthAdjust="spacingAndGlyphs">HCP_A3</text>
<circle cx="568.3" cy="474.40" r="4.4" fill="#ff723b"/>
<text x="575.4" y="476.70" font-size="6.8" font-weight="normal" text-anchor="start" fill="#3a3a3a" textLength="38.26" lengthAdjust="spacingAndGlyphs">HCP_A3 + L12</text>
<circle cx="568.3" cy="483.80" r="4.4" fill="#ff572c"/>
<text x="575.4" y="486.10" font-size="6.8" font-weight="normal" text-anchor="start" fill="#3a3a3a" textLength="9.53" lengthAdjust="spacingAndGlyphs">L12</text>
<circle cx="568.3" cy="493.20" r="4.4" fill="#ff3b1e"/>
<text x="575.4" y="495.50" font-size="6.8" font-weight="normal" text-anchor="start" fill="#3a3a3a" textLength="19.04" lengthAdjust="spacingAndGlyphs">LIQUID</text>
<circle cx="568.3" cy="502.60" r="4.4" fill="#ff1e0f"/>
<text x="575.4" y="504.90" font-size="6.8" font-weight="normal" text-anchor="start" fill="#3a3a3a" textLength="17.14" lengthAdjust="spacingAndGlyphs">SOLID</text>
<circle cx="568.3" cy="512.00" r="4.4" fill="#ff0000"/>
<text x="575.4" y="514.30" font-size="6.8" font-weight="normal" text-anchor="start" fill="#3a3a3a" textLength="40.79" lengthAdjust="spacingAndGlyphs">SOLID + SOLID</text>
</svg></body></html>
